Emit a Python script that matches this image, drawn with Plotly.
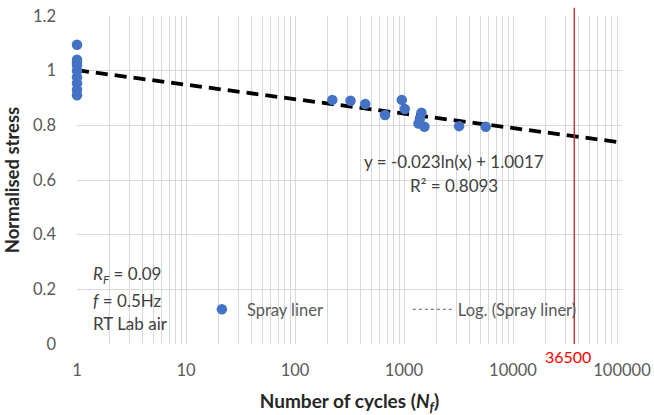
import numpy as np
import plotly.graph_objects as go

# Data
cycles_at_one = [1, 1, 1, 1, 1, 1, 1, 1, 1]
stress_at_one = [1.095, 1.04, 1.03, 1.02, 1.0, 0.976, 0.954, 0.93, 0.91]
cycles_cluster = [220, 323, 441, 670, 955, 1016, 1446, 1400, 1360, 1540, 3200, 5620]
stress_cluster = [0.893, 0.890, 0.878, 0.838, 0.893, 0.860, 0.846, 0.825, 0.807, 0.795, 0.797, 0.795]
cycles = cycles_at_one + cycles_cluster
stress = stress_at_one + stress_cluster

trend_a = -0.023
trend_b = 1.0017
trend_x = [1, 100000]
design_life = 36500

x_tickvals = [1, 10, 100, 1000, 10000, 100000]
x_ticktext = ["1", "10", "100", "1000", "10000", "100000"]
y_tickvals = [0, 0.2, 0.4, 0.6, 0.8, 1.0, 1.2]
y_ticktext = ["0", "0.2", "0.4", "0.6", "0.8", "1", "1.2"]

minor_vals = [m * 10 ** d for d in range(0, 5) for m in range(2, 10)]

trend_y = [trend_a * np.log(x) + trend_b for x in trend_x]

FONT = "Lato"
GRID = "#d9d9d9"
TXT = "#595959"
DARK = "#404040"

fig = go.Figure()
fig.add_trace(go.Scatter(
    x=trend_x, y=trend_y, mode="lines",
    line=dict(color="black", width=3.8, dash="12px,7px"),
    showlegend=False, hoverinfo="skip"))
fig.add_trace(go.Scatter(
    x=cycles, y=stress, mode="markers", name="Spray liner", cliponaxis=False,
    marker=dict(color="#4472C4", size=10.5), legend="legend"))
fig.add_trace(go.Scatter(
    x=[None], y=[None], mode="lines", name="Log. (Spray liner)",
    line=dict(color="#595959", width=1, dash="dot"), legend="legend2"))

fig.add_shape(type="line", xref="x", yref="paper", x0=design_life, x1=design_life,
              y0=0, y1=1.025, line=dict(color="#C0393B", width=1.5), layer="above")

fig.add_annotation(x=np.log10(design_life), xref="x", y=0, yref="paper",
                   text="36500", showarrow=False, yanchor="top", xanchor="center",
                   xshift=-6, yshift=-1,
                   font=dict(color="red", size=16, family=FONT))

fig.add_annotation(x=0.692, y=0.555, xref="paper", yref="paper", showarrow=False,
                   xanchor="center", yanchor="middle",
                   text="y = -0.023ln(x) + 1.0017",
                   font=dict(size=17, family=FONT, color=DARK))
fig.add_annotation(x=0.692, y=0.483, xref="paper", yref="paper", showarrow=False,
                   xanchor="center", yanchor="middle",
                   text="R² = 0.8093",
                   font=dict(size=17, family=FONT, color=DARK))

for txt, yp in [("<i>R<sub>F</sub></i> = 0.09", 0.21),
                ("<i>f</i> = 0.5Hz", 0.134),
                ("RT Lab air", 0.064)]:
    fig.add_annotation(x=0.026, y=yp, xref="paper", yref="paper", showarrow=False,
                       xanchor="left", yanchor="middle", align="left", text=txt,
                       font=dict(size=17, family=FONT, color=DARK))

fig.update_layout(
    width=654, height=415,
    margin=dict(l=77, r=32, t=16, b=71),
    plot_bgcolor="white", paper_bgcolor="white",
    font=dict(family=FONT, color=TXT, size=14),
    legend=dict(x=0.22, y=0.105, xanchor="left", yanchor="middle", itemwidth=40,
                bgcolor="rgba(0,0,0,0)", font=dict(size=16.5, color=TXT, family=FONT)),
    legend2=dict(x=0.607, y=0.105, xanchor="left", yanchor="middle", itemwidth=40,
                 bgcolor="rgba(0,0,0,0)", font=dict(size=16.5, color=TXT, family=FONT)),
    xaxis=dict(type="log", range=[0, 5], tickvals=x_tickvals, ticktext=x_ticktext,
               showgrid=True, gridcolor=GRID, gridwidth=1, zeroline=False,
               showline=False, ticks="", ticklabelstandoff=14, automargin=False,
               tickfont=dict(size=16.5, color=TXT),
               minor=dict(tickvals=minor_vals, showgrid=True, gridcolor=GRID, gridwidth=1, ticks=""),
               title=dict(text="<b>Number of cycles (<i>N<sub>f</sub></i>)</b>",
                          font=dict(size=19, color="#262626", family=FONT), standoff=16)),
    yaxis=dict(range=[0, 1.2], tickvals=y_tickvals, ticktext=y_ticktext,
               showgrid=True, gridcolor=GRID, gridwidth=1, zeroline=False,
               showline=False, ticks="", ticklabelstandoff=20, automargin=False,
               tickfont=dict(size=16.5, color=TXT),
               title=dict(text="<b>Normalised stress</b>",
                          font=dict(size=18.5, color="#262626", family=FONT), standoff=8)),
)

fig.write_html("out.html", config={"displayModeBar": False},
               post_script="document.body.style.margin='0';")
